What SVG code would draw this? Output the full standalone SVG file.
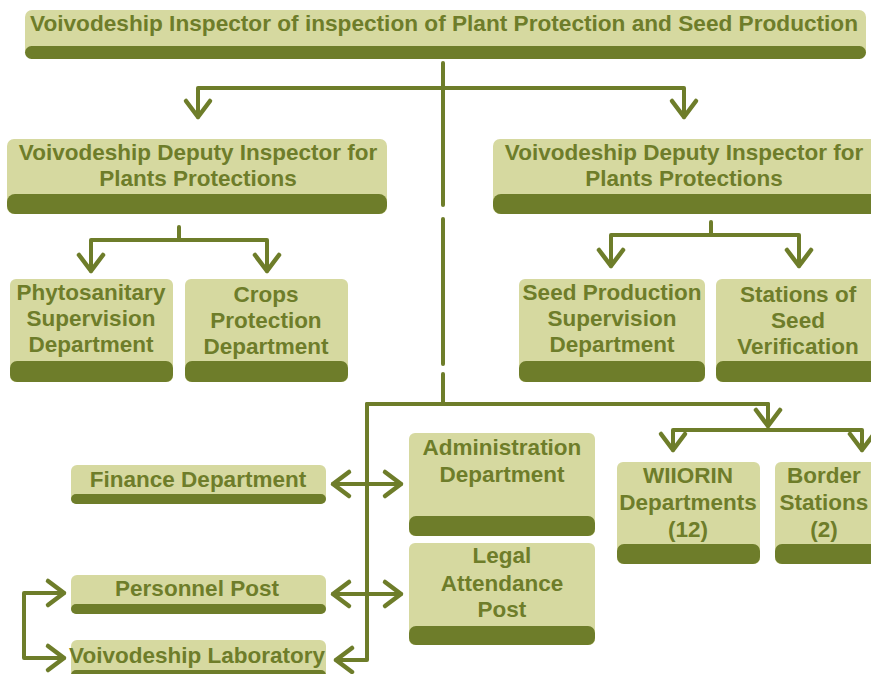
<svg xmlns="http://www.w3.org/2000/svg" width="871" height="674" viewBox="0 0 871 674">
<style>
.box{fill:#d6d9a0}
.band{fill:#6e7d2a}
.t{font-family:"Liberation Sans",Arial,sans-serif;font-weight:bold;font-size:22.5px;fill:#6e7d2a;text-anchor:middle}
.ln{fill:none;stroke:#6e7d2a;stroke-width:4;stroke-linecap:round;stroke-linejoin:round}
.arr{marker-end:url(#chev)}
.dbl{marker-start:url(#chev);marker-end:url(#chev)}
</style>
<defs>
<marker id="chev" markerUnits="userSpaceOnUse" orient="auto-start-reverse" viewBox="-20 -14 24 28" markerWidth="24" markerHeight="28" refX="0" refY="0" overflow="visible">
<path d="M-16,-12 L0,0 L-16,12" fill="none" stroke="#6e7d2a" stroke-width="4.5" stroke-linecap="round" stroke-linejoin="round"/>
</marker>
</defs>
<rect width="871" height="674" fill="#ffffff"/>

<g id="connectors">
<line class="ln" x1="443" y1="63" x2="443" y2="205"/>
<line class="ln" x1="443" y1="219" x2="443" y2="364"/>
<line class="ln" x1="443" y1="374" x2="443" y2="404"/>
<polyline class="ln dbl" points="198,117 198,88 684,88 684,117"/>
<line class="ln" x1="179" y1="227" x2="179" y2="240"/>
<polyline class="ln dbl" points="91,271 91,240 267,240 267,271"/>
<line class="ln" x1="711" y1="222" x2="711" y2="235"/>
<polyline class="ln dbl" points="611,266 611,235 799,235 799,266"/>
<polyline class="ln arr" points="768,404 768,426"/>
<polyline class="ln" points="367,404 768,404"/>
<polyline class="ln arr" points="367,404 367,660 336,660"/>
<polyline class="ln dbl" points="673,450 673,430 862,430 862,450"/>
<line class="ln dbl" x1="333" y1="484" x2="401" y2="484"/>
<line class="ln dbl" x1="333" y1="594" x2="401" y2="594"/>
<polyline class="ln dbl" points="64,593 24,593 24,658 64,658"/>
</g>

<g id="inspector">
<rect class="box" x="25" y="10" width="841" height="48" rx="7"/>
<rect class="band" x="25" y="46" width="841" height="13" rx="6.5"/>
<text class="t" x="444" y="31" textLength="828" lengthAdjust="spacingAndGlyphs">Voivodeship Inspector of inspection of Plant Protection and Seed Production</text>
</g>

<g id="deputy-left">
<rect class="box" x="7" y="139" width="380" height="75" rx="7"/>
<rect class="band" x="7" y="194" width="380" height="20" rx="8"/>
<text class="t" x="198" y="160">Voivodeship Deputy Inspector for</text>
<text class="t" x="198" y="186">Plants Protections</text>
</g>

<g id="deputy-right">
<rect class="box" x="493" y="139" width="385" height="75" rx="7"/>
<rect class="band" x="493" y="194" width="385" height="20" rx="8"/>
<text class="t" x="684" y="160">Voivodeship Deputy Inspector for</text>
<text class="t" x="684" y="186">Plants Protections</text>
</g>

<g id="phytosanitary">
<rect class="box" x="10" y="279" width="163" height="103" rx="6"/>
<rect class="band" x="10" y="361" width="163" height="21" rx="7"/>
<text class="t" x="91" y="300">Phytosanitary</text>
<text class="t" x="91" y="326">Supervision</text>
<text class="t" x="91" y="352">Department</text>
</g>

<g id="crops">
<rect class="box" x="185" y="279" width="163" height="103" rx="6"/>
<rect class="band" x="185" y="361" width="163" height="21" rx="7"/>
<text class="t" x="266" y="302">Crops</text>
<text class="t" x="266" y="328">Protection</text>
<text class="t" x="266" y="354">Department</text>
</g>

<g id="seed-production">
<rect class="box" x="519" y="279" width="186" height="103" rx="6"/>
<rect class="band" x="519" y="361" width="186" height="21" rx="7"/>
<text class="t" x="612" y="300">Seed Production</text>
<text class="t" x="612" y="326">Supervision</text>
<text class="t" x="612" y="352">Department</text>
</g>

<g id="stations-seed">
<rect class="box" x="716" y="279" width="165" height="103" rx="6"/>
<rect class="band" x="716" y="361" width="165" height="21" rx="7"/>
<text class="t" x="798" y="302">Stations of</text>
<text class="t" x="798" y="328">Seed</text>
<text class="t" x="798" y="354">Verification</text>
</g>

<g id="finance">
<rect class="box" x="71" y="465" width="255" height="39" rx="6"/>
<rect class="band" x="71" y="494" width="255" height="10" rx="5"/>
<text class="t" x="198" y="487">Finance Department</text>
</g>

<g id="personnel">
<rect class="box" x="71" y="575" width="255" height="39" rx="6"/>
<rect class="band" x="71" y="604" width="255" height="10" rx="5"/>
<text class="t" x="197" y="596">Personnel Post</text>
</g>

<g id="laboratory">
<rect class="box" x="71" y="640" width="255" height="44" rx="6"/>
<rect class="band" x="71" y="670" width="255" height="14" rx="5"/>
<text class="t" x="197" y="663">Voivodeship Laboratory</text>
</g>

<g id="administration">
<rect class="box" x="409" y="433" width="186" height="103" rx="6"/>
<rect class="band" x="409" y="516" width="186" height="20" rx="7"/>
<text class="t" x="502" y="455">Administration</text>
<text class="t" x="502" y="482">Department</text>
</g>

<g id="legal">
<rect class="box" x="409" y="543" width="186" height="102" rx="6"/>
<rect class="band" x="409" y="626" width="186" height="19" rx="7"/>
<text class="t" x="502" y="563">Legal</text>
<text class="t" x="502" y="591">Attendance</text>
<text class="t" x="502" y="617">Post</text>
</g>

<g id="wiiorin">
<rect class="box" x="617" y="462" width="143" height="102" rx="6"/>
<rect class="band" x="617" y="544" width="143" height="20" rx="7"/>
<text class="t" x="688" y="483">WIIORIN</text>
<text class="t" x="688" y="510">Departments</text>
<text class="t" x="688" y="537">(12)</text>
</g>

<g id="border">
<rect class="box" x="775" y="462" width="106" height="102" rx="6"/>
<rect class="band" x="775" y="544" width="106" height="20" rx="7"/>
<text class="t" x="824" y="483">Border</text>
<text class="t" x="824" y="510">Stations</text>
<text class="t" x="824" y="537">(2)</text>
</g>
</svg>
